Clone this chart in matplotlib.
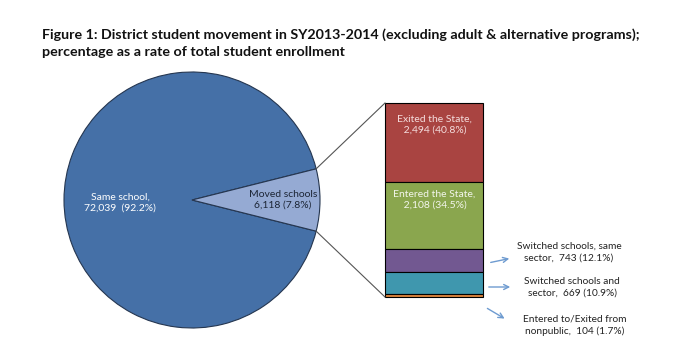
import matplotlib.pyplot as plt
from matplotlib.patches import FancyArrowPatch

plt.rcParams['font.family'] = ['Lato', 'DejaVu Sans']

# pie data
pie_labels = ['Same school,\n72,039  (92.2%)', 'Moved schools\n6,118 (7.8%)']
pie_values = [72039, 6118]
pie_colors = ['#4570A7', '#95AAD3']

# breakdown of moved schools (top to bottom of the bar)
bar_labels = ['Exited the State,\n 2,494 (40.8%)',
              'Entered the State,\n 2,108 (34.5%)',
              'Switched schools, same\nsector,  743 (12.1%)',
              'Switched schools and\nsector,  669 (10.9%)',
              'Entered to/Exited from\nnonpublic,  104 (1.7%)']
bar_values = [2494, 2108, 743, 669, 104]
bar_colors = ['#A94441', '#8AA64E', '#725891', '#3F97AE', '#DB843D']

fig = plt.figure(figsize=(6.79, 3.56), dpi=100)
ax = fig.add_axes([0, 0, 1, 1])
ax.set_xlim(0, 679)
ax.set_ylim(356, 0)
ax.set_aspect('equal')
ax.axis('off')

fig.text(42 / 679, 1 - 35 / 356,
         'Figure 1: District student movement in SY2013-2014 (excluding adult & alternative programs);',
         fontsize=10.3, fontweight='bold', va='center', color='#111111')
fig.text(42 / 679, 1 - 52 / 356, 'percentage as a rate of total student enrollment',
         fontsize=10.3, fontweight='bold', va='center', color='#111111')

# pie, moved slice centred on the right
cx, cy, r = 192, 200, 128
moved_share = pie_values[1] / sum(pie_values) * 360
wedges, _ = ax.pie(pie_values, colors=pie_colors, center=(cx, cy), radius=r,
                   startangle=moved_share / 2, counterclock=True,
                   wedgeprops=dict(edgecolor='#253650', linewidth=0.8))
ax.set_xlim(0, 679)
ax.set_ylim(356, 0)

ax.text(120, 203, pie_labels[0], color='white', ha='center', va='center', fontsize=7.5,
        linespacing=1.3)
ax.text(283, 200, pie_labels[1], color='#1c2535', ha='center', va='center', fontsize=7.5,
        linespacing=1.3)

# stacked bar
bx, bw, btop, bh = 434, 98, 103, 194
total = sum(bar_values)
cum = 0
for lab, v, c in zip(bar_labels, bar_values, bar_colors):
    h = v / total * bh
    ax.bar(bx, h, width=bw, bottom=btop + cum, color=c, edgecolor='black', linewidth=0.8)
    cum += h

ax.text(bx, 125, bar_labels[0], color='#f5dede', ha='center', va='center', fontsize=7.5,
        linespacing=1.3)
ax.text(bx, 200, bar_labels[1], color='#f3f6ec', ha='center', va='center', fontsize=7.5,
        linespacing=1.3)

# connecting lines from pie to bar
import numpy as np
a = np.radians(moved_share / 2)
ax.plot([cx + r * np.cos(a), bx - bw / 2], [cy - r * np.sin(a), btop], color='#555555', lw=0.8)
ax.plot([cx + r * np.cos(a), bx - bw / 2], [cy + r * np.sin(a), btop + bh], color='#555555', lw=0.8)

# side labels with arrows
side = [((488, 263), (512, 258), (569, 252)),
        ((486, 287), (513, 287), (572, 287)),
        ((485, 307), (507, 320), (575, 325))]
for lab, (p0, p1, t) in zip(bar_labels[2:], side):
    ax.add_patch(FancyArrowPatch(p0, p1, arrowstyle='->', mutation_scale=9,
                                 color='#6E9BD0', lw=1.0))
    ax.text(t[0], t[1], lab, ha='center', va='center', fontsize=7.3, color='#222222',
            linespacing=1.4)

fig.savefig('out.png', dpi=100)
